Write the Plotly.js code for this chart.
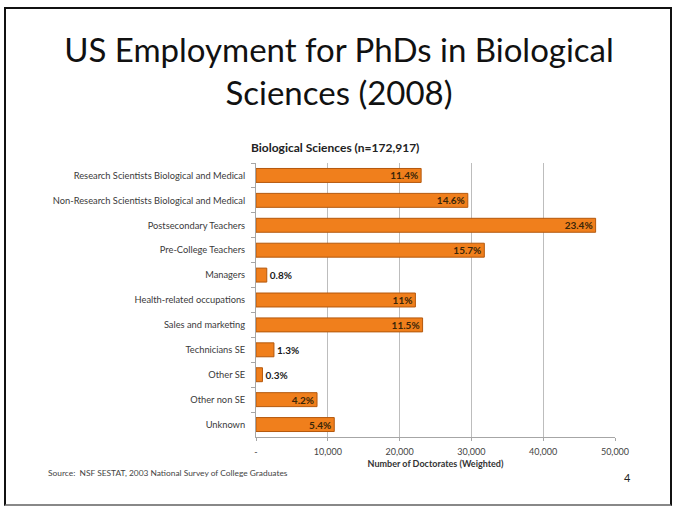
<!DOCTYPE html>
<html>
<head>
<meta charset="utf-8">
<script src="https://cdn.plot.ly/plotly-3.0.1.min.js"></script>
<style>
  html, body { margin: 0; padding: 0; background: #ffffff; }
  #wrap { position: relative; width: 674px; height: 508px; }
  #chart { width: 674px; height: 508px; }
  #frame { position: absolute; left: 4px; top: 7px; width: 664px; height: 495px;
           border: 2px solid #111; border-bottom-color: #888; pointer-events: none; }
</style>
</head>
<body>
<div id="wrap">
  <div id="chart"></div>
  <div id="frame"></div>
</div>
<script>
// ---- data ----
const categories = [
  "Research Scientists Biological and Medical",
  "Non-Research Scientists Biological and Medical",
  "Postsecondary Teachers",
  "Pre-College Teachers",
  "Managers",
  "Health-related occupations",
  "Sales and marketing",
  "Technicians SE",
  "Other SE",
  "Other non SE",
  "Unknown"
];
const doctorates = [23000, 29500, 47300, 31800, 1500, 22200, 23200, 2500, 900, 8500, 10900];
const shareLabels = ["11.4%", "14.6%", "23.4%", "15.7%", "0.8%", "11%", "11.5%", "1.3%", "0.3%", "4.2%", "5.4%"];
const tickValues = [0, 10000, 20000, 30000, 40000, 50000];
const tickLabels = ["-", "10,000", "20,000", "30,000", "40,000", "50,000"];

const FONT = "Lato, 'Open Sans', sans-serif";

const positions = doctorates.map(v => v > 5000 ? "inside" : "outside");

const trace = {
  type: "bar",
  orientation: "h",
  y: categories,
  x: doctorates,
  text: shareLabels,
  textposition: positions,
  insidetextanchor: "end",
  constraintext: "none",
  cliponaxis: false,
  textangle: 0,
  insidetextfont: { family: FONT, size: 10, color: "#3a2608", weight: "bold" },
  outsidetextfont: { family: FONT, size: 10, color: "#1a1a1a", weight: "bold" },
  marker: { color: "#F07F1C", line: { color: "#B4580C", width: 1 } },
  hoverinfo: "none"
};

const layout = {
  width: 674, height: 508,
  paper_bgcolor: "#ffffff", plot_bgcolor: "#ffffff",
  margin: { l: 256, r: 59, t: 163, b: 71 },
  showlegend: false,
  bargap: 0.44,
  title: {
    text: "US Employment for PhDs in Biological<br>Sciences (2008)",
    font: { family: FONT, size: 33, color: "#111111" },
    x: 0.503, xref: "container", xanchor: "center",
    y: 0.878, yref: "container", yanchor: "top"
  },
  xaxis: {
    range: [0, 50000],
    tickvals: tickValues,
    ticktext: tickLabels,
    tickfont: { family: FONT, size: 9, color: "#444444" },
    ticklabelstandoff: 3,
    showgrid: true, gridcolor: "#BDBDBD", gridwidth: 1,
    showline: true, linecolor: "#A6A6A6", linewidth: 1,
    ticks: "outside", ticklen: 3, tickcolor: "#A6A6A6",
    zeroline: false,
    title: { text: "<b>Number of Doctorates (Weighted)</b>", font: { family: FONT, size: 9, color: "#333333" }, standoff: 4 },
    fixedrange: true
  },
  yaxis: {
    autorange: "reversed",
    type: "category",
    tickfont: { family: FONT, size: 9.3, color: "#3a3a3a" },
    showline: true, linecolor: "#A6A6A6", linewidth: 1,
    ticks: "outside", ticklen: 4, tickcolor: "#A6A6A6",
    tickson: "boundaries",
    showgrid: false,
    ticklabelstandoff: 8,
    fixedrange: true
  },
  annotations: [
    { text: "<b>Biological Sciences (n=172,917)</b>", xref: "paper", yref: "paper",
      x: 0.22, y: 1.058, xanchor: "center", yanchor: "middle", showarrow: false,
      font: { family: FONT, size: 12, color: "#222222" } },
    { text: "Source:  NSF SESTAT, 2003 National Survey of College Graduates", xref: "paper", yref: "paper",
      x: -0.585, y: -0.13, xanchor: "left", yanchor: "middle", showarrow: false,
      font: { family: FONT, size: 8.4, color: "#444444" } },
    { text: "4", xref: "paper", yref: "paper",
      x: 1.036, y: -0.146, xanchor: "center", yanchor: "middle", showarrow: false,
      font: { family: FONT, size: 11, color: "#222222" } }
  ]
};

Plotly.newPlot("chart", [trace], layout, { displayModeBar: false, staticPlot: true });
</script>
</body>
</html>
